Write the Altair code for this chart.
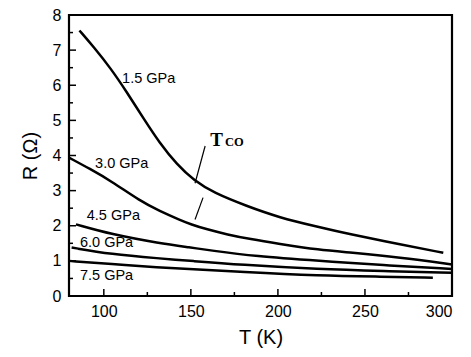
import altair as alt
import pandas as pd

# ---- data ----
T15 = [86, 94, 104, 113, 123, 132, 142, 152, 163, 182, 201, 222, 241, 270, 295]
R15 = [7.56, 7.10, 6.48, 5.82, 5.04, 4.36, 3.74, 3.28, 2.94, 2.56, 2.23, 1.98, 1.76, 1.47, 1.23]

T30 = [80, 92, 104, 121, 132, 144, 150, 159, 171, 184, 200, 224, 241, 270, 300]
R30 = [3.94, 3.62, 3.28, 2.70, 2.42, 2.16, 2.04, 1.90, 1.75, 1.62, 1.49, 1.31, 1.24, 1.10, 0.90]

T45 = [84, 104, 132, 150, 161, 187, 224, 260, 300]
R45 = [2.04, 1.76, 1.50, 1.38, 1.30, 1.13, 1.00, 0.88, 0.77]

T60 = [81.5, 104, 132, 150, 178, 224, 260, 300]
R60 = [1.38, 1.19, 1.07, 1.00, 0.89, 0.76, 0.71, 0.66]

T75 = [80, 104, 132, 150, 178, 224, 260, 289]
R75 = [1.00, 0.91, 0.81, 0.77, 0.69, 0.58, 0.55, 0.52]

series_names = ["1.5 GPa", "3.0 GPa", "4.5 GPa", "6.0 GPa", "7.5 GPa"]
series_T = [T15, T30, T45, T60, T75]
series_R = [R15, R30, R45, R60, R75]

# curve labels (data coordinates)
label_text = ["1.5 GPa", "3.0 GPa", "4.5 GPa", "6.0 GPa", "7.5 GPa"]
label_T = [110.5, 95, 90.2, 86.3, 86.3]
label_R = [6.18, 3.76, 2.28, 1.52, 0.57]

# T_CO arrows (data coordinates)
arrow_T1 = [158.2, 157.0]
arrow_R1 = [4.27, 2.80]
arrow_T2 = [152.4, 152.4]
arrow_R2 = [3.21, 2.18]

x_major = [100, 150, 200, 250, 300]
x_minor = [125, 175, 225, 275]
y_major = [0, 1, 2, 3, 4, 5, 6, 7, 8]
y_minor = [0.5, 1.5, 2.5, 3.5, 4.5, 5.5, 6.5, 7.5]

# ---- build tables ----
rows = []
for name, ts, rs in zip(series_names, series_T, series_R):
    for i, (t, r) in enumerate(zip(ts, rs)):
        rows.append({"series": name, "T": t, "R": r, "order": i})
df = pd.DataFrame(rows)
labels_df = pd.DataFrame({"text": label_text, "T": label_T, "R": label_R})
arrows_df = pd.DataFrame({"T1": arrow_T1, "R1": arrow_R1, "T2": arrow_T2, "R2": arrow_R2})

W, H = 383, 281
xs = alt.Scale(domain=[80, 300], nice=False, zero=False)
ys = alt.Scale(domain=[0, 8], nice=False)
FONT = "Liberation Sans"

x_axis = alt.Axis(values=x_major, labelFontSize=16, titleFontSize=20,
                  labelPadding=7, titlePadding=8, titleFontWeight="normal",
                  labelOverlap=False, ticks=False, domain=False, grid=False)
y_axis = alt.Axis(values=y_major, labelFontSize=16, titleFontSize=20,
                  labelPadding=8, titlePadding=12, titleFontWeight="normal",
                  labelOverlap=False, ticks=False, domain=False, grid=False)


def X(field):
    return alt.X(field, scale=xs, axis=x_axis, title="T (K)")


def Y(field):
    return alt.Y(field, scale=ys, axis=y_axis, title="R (Ω)")


lines = alt.Chart(df).mark_line(color="black", strokeWidth=2.5, interpolate="basis").encode(
    x=X("T:Q"), y=Y("R:Q"), detail="series:N", order="order:Q")

frame = alt.Chart(pd.DataFrame({"k": [0]})).mark_rect(
    fill=None, fillOpacity=0, stroke="black", strokeWidth=2.2).encode(
    x=alt.value(0), x2=alt.value(W), y=alt.value(0), y2=alt.value(H))

xmaj = alt.Chart(pd.DataFrame({"T": x_major})).mark_rule(color="black", strokeWidth=1.5).encode(
    x=X("T:Q"), y=alt.value(H), y2=alt.value(H - 7))
xmin = alt.Chart(pd.DataFrame({"T": x_minor})).mark_rule(color="black", strokeWidth=1.5).encode(
    x=X("T:Q"), y=alt.value(H), y2=alt.value(H - 4))
ymaj = alt.Chart(pd.DataFrame({"R": y_major})).mark_rule(color="black", strokeWidth=1.5).encode(
    y=Y("R:Q"), x=alt.value(0), x2=alt.value(7))
ymin = alt.Chart(pd.DataFrame({"R": y_minor})).mark_rule(color="black", strokeWidth=1.5).encode(
    y=Y("R:Q"), x=alt.value(0), x2=alt.value(4))

labels = alt.Chart(labels_df).mark_text(align="left", baseline="middle", font=FONT,
                                        fontSize=14.5, color="black").encode(
    x=X("T:Q"), y=Y("R:Q"), text="text:N")

arrows = alt.Chart(arrows_df).mark_rule(color="black", strokeWidth=1.2).encode(
    x=X("T1:Q"), y=Y("R1:Q"), x2="T2:Q", y2="R2:Q")

tco_T = alt.Chart(pd.DataFrame({"T": [161.1], "R": [4.27], "t": ["T"]})).mark_text(
    align="left", baseline="alphabetic", font="Liberation Serif", fontWeight="bold",
    fontSize=19, color="black").encode(x=X("T:Q"), y=Y("R:Q"), text="t:N")
tco_CO = alt.Chart(pd.DataFrame({"T": [169.6], "R": [4.27], "t": ["CO"]})).mark_text(
    align="left", baseline="alphabetic", font="Liberation Serif", fontWeight="bold",
    fontSize=12.5, color="black").encode(x=X("T:Q"), y=Y("R:Q"), text="t:N")

chart = alt.layer(lines, frame, xmaj, xmin, ymaj, ymin, labels, arrows, tco_T, tco_CO).properties(
    width=W, height=H,
    autosize=alt.AutoSizeParams(type="none"),
    padding={"left": 61, "top": 7, "right": 10, "bottom": 58},
).configure_view(stroke="black", strokeWidth=2.2).configure_axis(
    labelOverlap=False, labelFont=FONT, titleFont=FONT,
    labelColor="black", titleColor="black",
).configure(background="white")

chart.save("out.html", embed_options={"renderer": "svg", "actions": False})
